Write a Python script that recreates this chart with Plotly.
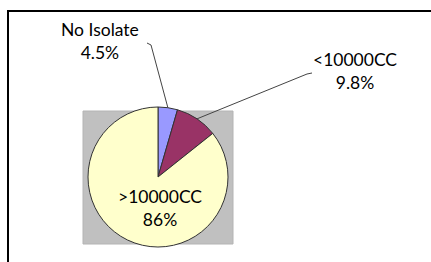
import math
import plotly.graph_objects as go

# ---- data ----
categories = ["No Isolate", "<10000CC", ">10000CC"]
values = [4.5, 9.8, 85.7]
pct_labels = ["4.5%", "9.8%", "86%"]
colors = ["#9999FF", "#993366", "#FFFFCC"]

W, H = 431, 262


def px(x):
    return x / W


def py(y):
    return 1 - y / H


# pie geometry (layout)
cx, cy, r = 158, 177, 70

fig = go.Figure(go.Pie(
    labels=categories,
    values=values,
    sort=False,
    direction="clockwise",
    rotation=0,
    textinfo="none",
    hoverinfo="label+percent",
    marker=dict(colors=colors, line=dict(color="#333333", width=1)),
    domain=dict(x=[px(cx - r), px(cx + r)], y=[py(cy + r), py(cy - r)]),
    showlegend=False,
))

shapes = []
# outer frame (partially off-canvas)
shapes.append(dict(type="rect", xref="paper", yref="paper",
                   x0=px(8), x1=px(460), y0=py(11), y1=py(300),
                   line=dict(color="black", width=2), fillcolor="rgba(0,0,0,0)",
                   layer="below"))
# grey plot-area box
shapes.append(dict(type="rect", xref="paper", yref="paper",
                   x0=px(83), x1=px(233), y0=py(244), y1=py(111),
                   line=dict(color="#B4B4B4", width=1), fillcolor="#C0C0C0",
                   layer="below"))

# leader lines from slice mid-angle on pie edge to labels
total = sum(values)
label_layout = {
    0: dict(text_xy=(100, 41), knee=(151, 45), hook=(147, 43)),
    1: dict(text_xy=(355, 71), knee=(307, 74), hook=(312, 73)),
}
FONT = dict(family="Lato", size=17.5, color="#000000")
cum = 0.0
annotations = []
for i, v in enumerate(values):
    mid = (cum + v / 2) / total * 2 * math.pi
    cum += v
    ex = cx + r * math.sin(mid)
    ey = cy - r * math.cos(mid)
    if i in label_layout:
        L = label_layout[i]
        path = "M {} {} L {} {} L {} {}".format(
            px(ex), py(ey), px(L["knee"][0]), py(L["knee"][1]),
            px(L["hook"][0]), py(L["hook"][1]))
        shapes.append(dict(type="path", xref="paper", yref="paper", path=path,
                           line=dict(color="#444444", width=1)))
        annotations.append(dict(
            x=px(L["text_xy"][0]), y=py(L["text_xy"][1]), xref="paper", yref="paper",
            text=categories[i] + "<br>" + pct_labels[i], showarrow=False,
            xanchor="center", yanchor="middle", align="center", font=FONT))
    else:
        annotations.append(dict(
            x=px(160), y=py(208), xref="paper", yref="paper",
            text=categories[i] + "<br>" + pct_labels[i], showarrow=False,
            xanchor="center", yanchor="middle", align="center", font=FONT))

fig.update_layout(
    width=W, height=H,
    margin=dict(l=0, r=0, t=0, b=0),
    paper_bgcolor="white",
    plot_bgcolor="white",
    shapes=shapes,
    annotations=annotations,
    font=dict(family="Lato"),
)

fig.write_html("out.html", config={"displayModeBar": False},
               post_script="document.body.style.margin='0';")
